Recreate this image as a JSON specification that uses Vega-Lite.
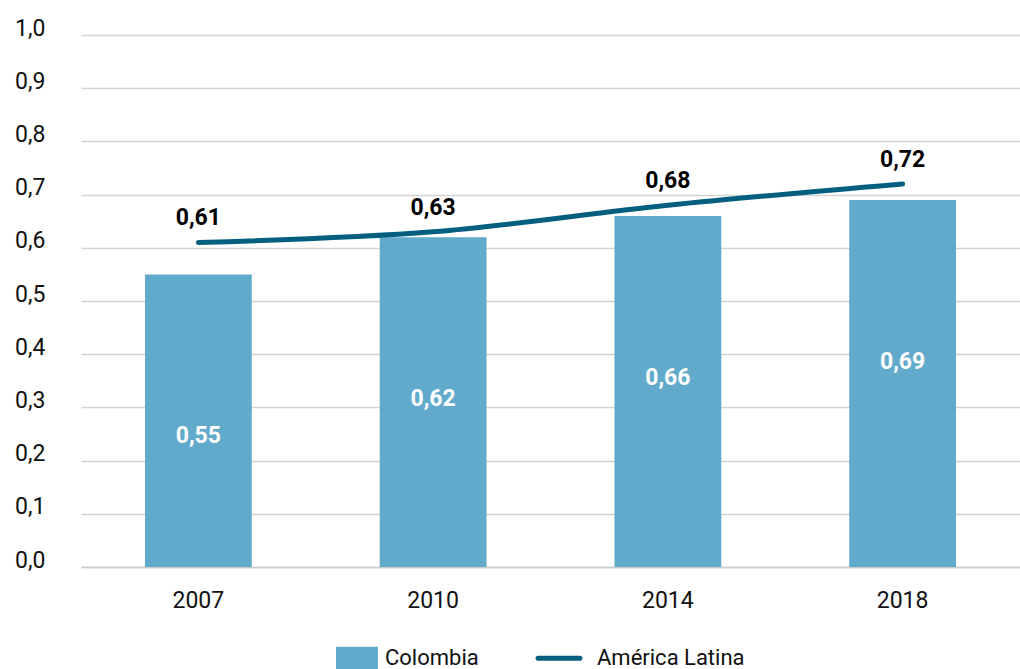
{
  "$schema": "https://vega.github.io/schema/vega-lite/v6.json",
  "autosize": "none",
  "width": 939,
  "height": 532,
  "padding": {"left": 81, "top": 35, "right": 0, "bottom": 102},
  "background": "white",
  "config": {
    "locale": {"number": {"decimal": ",", "thousands": ".", "grouping": [3], "currency": ["", ""]}},
    "font": "Roboto",
    "view": {"stroke": null},
    "axis": {"labelFont": "Roboto", "labelFontSize": 23, "labelColor": "#111111", "ticks": false, "title": null}
  },
  "data": {
    "values": [
      {"anio": "2007", "colombia": 0.55, "al": 0.61},
      {"anio": "2010", "colombia": 0.62, "al": 0.63},
      {"anio": "2014", "colombia": 0.66, "al": 0.68},
      {"anio": "2018", "colombia": 0.69, "al": 0.72}
    ]
  },
  "encoding": {
    "x": {
      "field": "anio", "type": "nominal",
      "scale": {"paddingInner": 0.545, "paddingOuter": 0.2725},
      "axis": {"labelAngle": 0, "labelPadding": 40, "labelBaseline": "alphabetic", "domain": true, "domainColor": "#cccccc", "domainWidth": 1.5, "grid": false}
    }
  },
  "layer": [
    {
      "mark": {"type": "bar", "color": "#62aacb"},
      "encoding": {
        "y": {
          "field": "colombia", "type": "quantitative",
          "scale": {"domain": [0, 1]},
          "axis": {"values": [0, 0.1, 0.2, 0.3, 0.4, 0.5, 0.6, 0.7, 0.8, 0.9, 1.0], "format": ".1f", "labelPadding": 36, "labelBaseline": "alphabetic", "domain": false, "grid": true, "gridColor": "#d3d3d3", "gridWidth": 1.5}
        },
        "color": {
          "datum": "Colombia", "type": "nominal",
          "scale": {"domain": ["Colombia", "América Latina"], "range": ["#62aacb", "#035f80"]},
          "legend": {
            "orient": "none", "legendX": 265, "legendY": 612, "direction": "horizontal",
            "title": null, "labelFont": "Roboto", "labelFontSize": 22, "labelColor": "#111111",
            "labelOffset": 17, "columnPadding": 56, "symbolSize": 400,
            "encode": {
              "symbols": {
                "update": {
                  "shape": {"signal": "datum.value === 'Colombia' ? 'M-2.1,-1.15H2.1V1.15H-2.1Z' : 'M-3.1,-1.15L-3.1,-1.15M-3.1,1.15L-3.1,1.15M-3.1,-0.25H1.1A0.25,0.25,0,0,1,1.1,0.25H-3.1A0.25,0.25,0,0,1,-3.1,-0.25Z'"},
                  "fill": {"signal": "datum.value === 'Colombia' ? '#62aacb' : '#035f80'"},
                  "stroke": {"value": "transparent"},
                  "strokeWidth": {"value": 0}
                }
              }
            }
          }
        }
      }
    },
    {
      "mark": {"type": "text", "color": "white", "fontWeight": "bold", "fontSize": 23, "baseline": "middle", "dy": 162},
      "encoding": {
        "y": {"field": "colombia", "type": "quantitative"},
        "text": {"field": "colombia", "type": "quantitative", "format": ".2f"}
      }
    },
    {
      "mark": {"type": "line", "color": "#035f80", "strokeWidth": 5, "strokeCap": "round", "interpolate": "monotone"},
      "encoding": {
        "y": {"field": "al", "type": "quantitative"},
        "stroke": {"datum": "América Latina", "type": "nominal", "scale": {"domain": ["Colombia", "América Latina"], "range": ["#62aacb", "#035f80"]}, "legend": null}
      }
    },
    {
      "mark": {"type": "text", "color": "black", "fontWeight": "bold", "fontSize": 23, "baseline": "alphabetic", "dy": -17},
      "encoding": {
        "y": {"field": "al", "type": "quantitative"},
        "text": {"field": "al", "type": "quantitative", "format": ".2f"}
      }
    }
  ]
}
